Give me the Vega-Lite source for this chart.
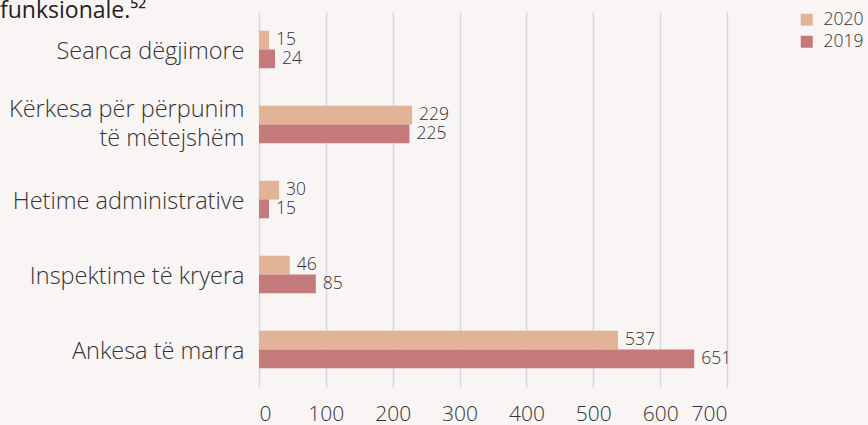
{
  "$schema": "https://vega.github.io/schema/vega-lite/v6.json",
  "autosize": {"type": "none"},
  "width": 468,
  "height": 375,
  "padding": {"left": 259, "top": 12, "right": 141, "bottom": 38},
  "background": "#f8f5f4",
  "title": {
    "text": "funksionale.⁵²",
    "anchor": "start",
    "frame": "group",
    "dx": -259,
    "dy": 23,
    "fontSize": 23,
    "font": "Open Sans",
    "fontWeight": "normal",
    "color": "#222222",
    "baseline": "alphabetic",
    "offset": -7
  },
  "config": {
    "view": {"stroke": null},
    "font": "Open Sans"
  },
  "data": {
    "values": [
      {"category": "Seanca dëgjimore\u00a0", "year": "2020", "value": 15},
      {"category": "Seanca dëgjimore\u00a0", "year": "2019", "value": 24},
      {"category": "Kërkesa për përpunim|të mëtejshëm\u00a0", "year": "2020", "value": 229},
      {"category": "Kërkesa për përpunim|të mëtejshëm\u00a0", "year": "2019", "value": 225},
      {"category": "Hetime administrative", "year": "2020", "value": 30},
      {"category": "Hetime administrative", "year": "2019", "value": 15},
      {"category": "Inspektime të kryera", "year": "2020", "value": 46},
      {"category": "Inspektime të kryera", "year": "2019", "value": 85},
      {"category": "Ankesa të marra", "year": "2020", "value": 537},
      {"category": "Ankesa të marra", "year": "2019", "value": 651}
    ]
  },
  "encoding": {
    "y": {
      "field": "category",
      "type": "nominal",
      "sort": ["Seanca dëgjimore\u00a0", "Kërkesa për përpunim|të mëtejshëm\u00a0", "Hetime administrative", "Inspektime të kryera", "Ankesa të marra"],
      "scale": {"paddingInner": 0.5, "paddingOuter": 0.25},
      "axis": {
        "title": null,
        "domain": false,
        "ticks": false,
        "grid": false,
        "labelPadding": 15,
        "labelFontSize": 23.5,
        "labelColor": "#333333",
        "labelFontWeight": 300,
        "labelLimit": 400,
        "labelLineHeight": 29,
        "labelOffset": {"condition": {"test": "indexof(datum.value, '|') >= 0", "value": -15}, "value": 2},
        "labelExpr": "split(datum.label, '|')"
      }
    },
    "yOffset": {"field": "year", "type": "nominal", "sort": ["2020", "2019"]},
    "x": {
      "field": "value",
      "type": "quantitative",
      "scale": {"domain": [0, 700], "nice": false},
      "axis": {
        "title": null,
        "values": [0, 100, 200, 300, 400, 500, 600, 700],
        "domain": false,
        "ticks": false,
        "grid": true,
        "gridColor": "#d5d9dd",
        "gridWidth": 1.5,
        "labelPadding": 16,
        "labelFontSize": 21,
        "labelColor": "#333333",
        "labelFontWeight": 300
      }
    }
  },
  "layer": [
    {
      "mark": {"type": "bar"},
      "encoding": {
        "color": {
          "field": "year",
          "type": "nominal",
          "scale": {"domain": ["2020", "2019"], "range": ["#e2b396", "#c47a7b"]},
          "legend": {
            "title": null,
            "orient": "none",
            "legendX": 539,
            "legendY": -1,
            "symbolType": "square",
            "symbolSize": 144,
            "symbolStrokeWidth": 0,
            "labelFontSize": 17.5,
            "labelColor": "#333333",
            "labelFontWeight": 300,
            "rowPadding": 3,
            "labelOffset": 8
          }
        }
      }
    },
    {
      "mark": {"type": "text", "align": "left", "baseline": "middle", "dx": 7, "fontSize": 17.5, "fontWeight": 300, "color": "#333333"},
      "encoding": {
        "text": {"field": "value", "type": "quantitative"}
      }
    }
  ]
}
